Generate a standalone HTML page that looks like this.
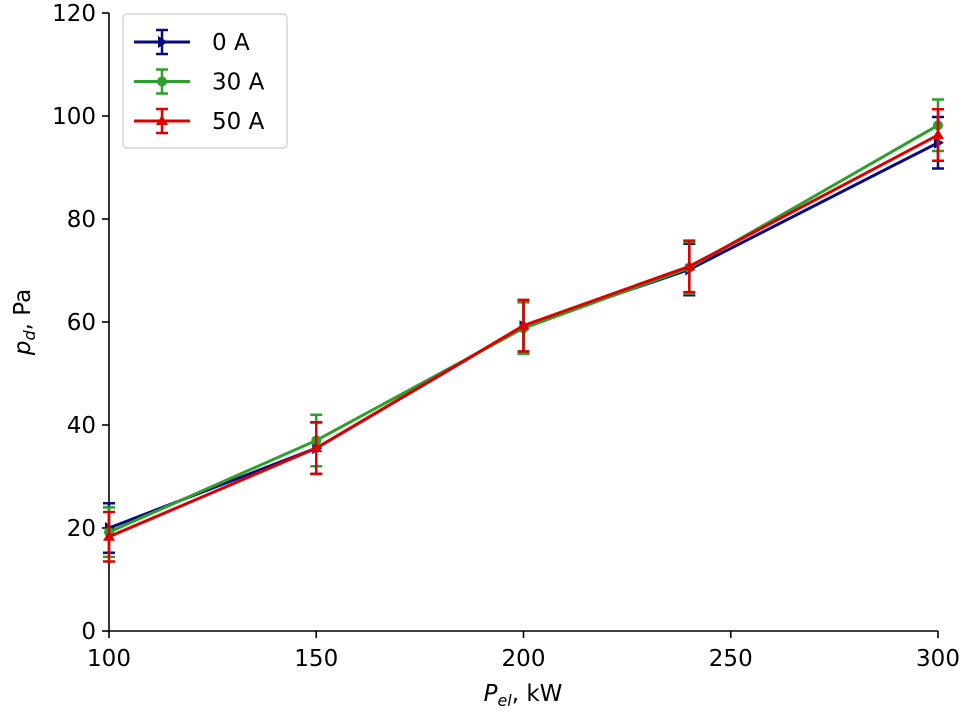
<!DOCTYPE html>
<html><head><meta charset="utf-8"><style>
body{margin:0;background:#fff}
text{font-family:"DejaVu Sans","Liberation Sans",sans-serif;fill:#000}
</style></head><body>
<svg id="chart" width="963" height="710">
<g id="axes"></g><g id="series"></g><g id="legend"></g>
</svg>
<script>
const categories=[100,150,200,240,300];
const s0=[20.0,35.5,59.2,70.2,94.8];
const s30=[19.2,37.0,58.8,70.5,98.2];
const s50=[18.3,35.5,59.3,70.8,96.3];
const e0=[4.8,5,5,5,5];
const e30=[4.8,5,5,5,5];
const e50=[4.8,5,5,5,5];
const xTicks=[100,150,200,250,300];
const yTicks=[0,20,40,60,80,100,120];
const seriesNames=["0 A","30 A","50 A"];
const NS="http://www.w3.org/2000/svg";
const X=v=>109+(v-100)*(938-109)/200;
const Y=v=>631-v*(631-13)/120;
function mk(t,a,p){const e=document.createElementNS(NS,t);for(const k in a)e.setAttribute(k,a[k]);p.appendChild(e);return e;}
const ax=document.getElementById('axes');
let l=mk('line',{x1:109,y1:631,x2:938,y2:631,stroke:'#000','stroke-width':1.6},ax);


l=mk('line',{x1:109,y1:13,x2:109,y2:631,stroke:'#000','stroke-width':1.6},ax);


xTicks.forEach(v=>{mk('line',{x1:X(v),y1:631,x2:X(v),y2:638,stroke:'#000','stroke-width':1.6},ax);
const t=mk('text',{x:X(v),y:666,'text-anchor':'middle','font-size':23},ax);t.textContent=v;

});
yTicks.forEach(v=>{mk('line',{x1:102,y1:Y(v),x2:109,y2:Y(v),stroke:'#000','stroke-width':1.6},ax);
const t=mk('text',{x:96,y:Y(v)+8,'text-anchor':'end','font-size':23},ax);t.textContent=v;

});
let t=mk('text',{x:523,y:701,'text-anchor':'middle','font-size':23},ax);
t.innerHTML='<tspan font-style="italic">P</tspan><tspan font-style="italic" font-size="16" dy="5">el</tspan><tspan dy="-5">, kW</tspan>';


t=mk('text',{x:0,y:0,'text-anchor':'middle','font-size':23,transform:'translate(30,322) rotate(-90)'},ax);
t.innerHTML='<tspan font-style="italic">p</tspan><tspan font-style="italic" font-size="16" dy="5">d</tspan><tspan dy="-5">, Pa</tspan>';


const cols=['#0a0a80','#2ca02c','#dd0000'];
const data=[s0,s30,s50],errs=[e0,e30,e50],marks=['right','circle','up'];
function marker(kind,x,y,c,p){
 if(kind==='circle')return mk('circle',{cx:x,cy:y,r:5,fill:c},p);
 if(kind==='right')return mk('polygon',{points:`${x+6},${y} ${x-4},${y-6} ${x-4},${y+6}`,fill:c},p);
 return mk('polygon',{points:`${x},${y-6} ${x-6},${y+4} ${x+6},${y+4}`,fill:c},p);
}
const sg=document.getElementById('series');
data.forEach((d,i)=>{
 const g=mk('g',{},sg);
 
 
 const pl=mk('polyline',{points:d.map((v,j)=>X(categories[j])+','+Y(v)).join(' '),fill:'none',stroke:cols[i],'stroke-width':3},g);
 
 
 d.forEach((v,j)=>{const x=X(categories[j]),e=errs[i][j];
  const eb=mk('path',{d:`M${x},${Y(v+e)}V${Y(v-e)}M${x-6},${Y(v+e)}H${x+6}M${x-6},${Y(v-e)}H${x+6}`,stroke:cols[i],'stroke-width':2.5,fill:'none'},g);
  
  
  const m=marker(marks[i],x,Y(v),cols[i],g);
  
  });
});
const lg=document.getElementById('legend');
const box=mk('rect',{x:123,y:14,width:164,height:134,rx:4,fill:'#fff',stroke:'#ccc','stroke-width':1.2},lg);


seriesNames.forEach((n,i)=>{const y=42+i*39.5;
 const g=mk('g',{},lg);
 
 
 mk('line',{x1:134,y1:y,x2:190,y2:y,stroke:cols[i],'stroke-width':3},g);
 mk('path',{d:`M162,${y-12}V${y+12}M156,${y-12}H168M156,${y+12}H168`,stroke:cols[i],'stroke-width':2.5,fill:'none'},g);
 marker(marks[i],162,y,cols[i],g);
 const tt=mk('text',{x:212,y:y+8,'font-size':23},g);tt.textContent=n;});
</script>
</body></html>
